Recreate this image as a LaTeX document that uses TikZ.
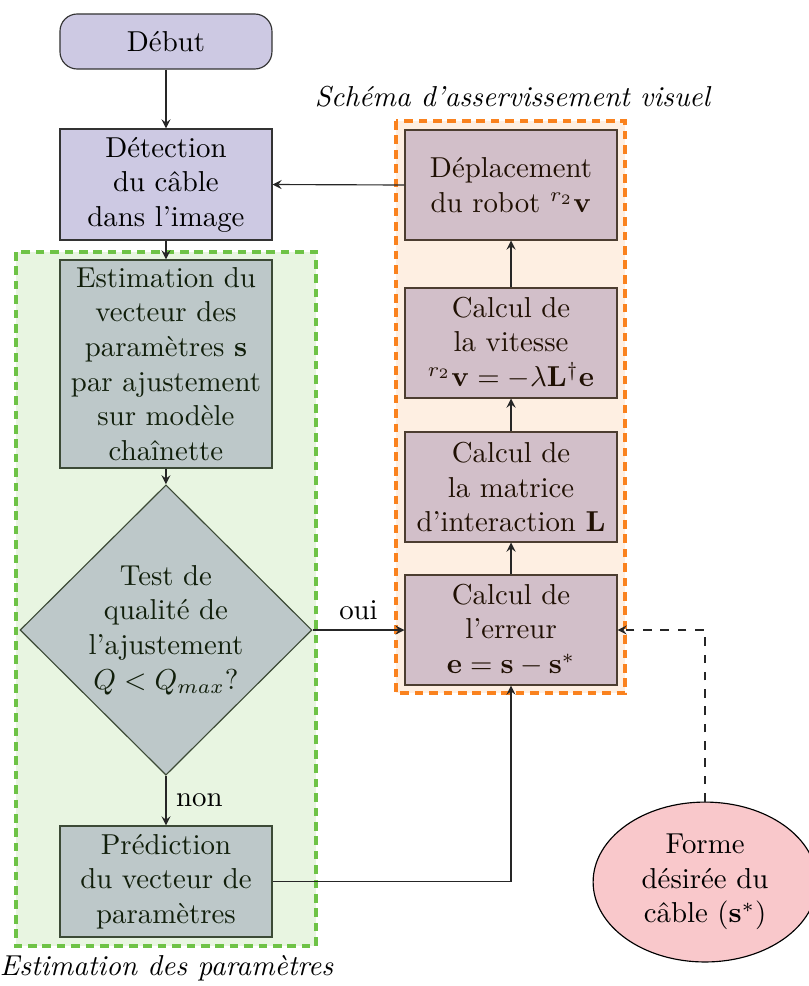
\documentclass[tikz,border=0pt]{standalone}
\usepackage{amsmath,amssymb}
\usepackage{xcolor}
\usepackage{tikz}
\usetikzlibrary{
  shapes.geometric, arrows.meta, positioning, calc
}
\definecolor{stepfill}{RGB}{205,201,227}
\definecolor{goalfill}{RGB}{249,200,203}
\definecolor{estgreen}{RGB}{110,195,70}
\definecolor{asservorange}{RGB}{250,130,30}
\tikzset{
  startbox/.style={
    draw=black!80, rounded corners=6pt, fill=stepfill, align=center,
    minimum width=2.585cm, minimum height=0.671cm
  },
  stepbox/.style={
    rectangle, draw=black!80, fill=stepfill, align=center, inner sep=2pt,
    minimum width=2.585cm, minimum height=1.341cm
  },
  testdiamond/.style={
    diamond, draw=black!80, fill=stepfill, align=center, inner sep=0pt,
    minimum width=3.56cm, minimum height=3.54cm
  },
  goalellipse/.style={
    ellipse, draw=black, fill=goalfill, align=center, inner sep=1pt,
    minimum width=2.73cm, minimum height=1.95cm
  },
  estregion/.style={
    draw=estgreen, fill=estgreen, fill opacity=0.16, line width=1.1pt,
    dash pattern=on 3pt off 2pt
  },
  asservregion/.style={
    draw=asservorange, fill=asservorange, fill opacity=0.13, line width=1.1pt,
    dash pattern=on 3pt off 2pt
  },
  grouplabel/.style={font=\itshape},
  flowarrow/.style={-stealth, color=black!85},
}

\begin{document}
\begin{tikzpicture}
  \useasboundingbox (0,0) rectangle (9.854,-12.024);

  % Estimation side
  \node[startbox] (debut) at (2.024,-0.506) {Début};
  \node[stepbox, minimum height=1.354cm] (detect) at (2.024,-2.250)
    {Détection\\du câble\\dans l'image};
  \node[stepbox, minimum height=2.537cm] (estim) at (2.024,-4.439)
    {Estimation du\\vecteur des\\paramètres $\mathbf{s}$\\par ajustement\\sur modèle\\chaînette};
  \node[testdiamond] (test) at (2.024,-7.683)
    {Test de\\qualité de\\l'ajustement\\$Q<Q_{max}$?};
  \node[stepbox, minimum height=1.354cm] (predict) at (2.024,-10.750)
    {Prédiction\\du vecteur de\\paramètres};

  % Visual servoing side
  \node[stepbox] (deplac) at (6.232,-2.256)
    {Déplacement\\du robot ${}^{r_2}\mathbf{v}$};
  \node[stepbox] (vitesse) at (6.232,-4.183)
    {Calcul de\\la vitesse\\${}^{r_2}\mathbf{v}=-\lambda\mathbf{L}^{\dagger}\mathbf{e}$};
  \node[stepbox] (matrice) at (6.232,-5.939)
    {Calcul de\\la matrice\\d'interaction $\mathbf{L}$};
  \node[stepbox] (erreur) at (6.232,-7.683)
    {Calcul de\\l'erreur\\$\mathbf{e}=\mathbf{s}-\mathbf{s}^*$};

  % Desired shape
  \node[goalellipse] (forme) at (8.598,-10.756)
    {Forme\\désirée du\\câble ($\mathbf{s}^*$)};

  % Groups
  \draw[estregion] (0.195,-3.073) rectangle (3.854,-11.537);
  \draw[asservregion] (4.829,-1.476) rectangle (7.622,-8.451);
  \node[grouplabel] (asservlabel) at (6.25,-1.183) {Schéma d'asservissement visuel};
  \node[grouplabel] (estimlabel) at (2.03,-11.805) {Estimation des paramètres};

  % Arrows
  \draw[flowarrow] (debut) -- (detect);
  \draw[flowarrow] (detect) -- (estim);
  \draw[flowarrow] (estim) -- (test);
  \draw[flowarrow] (test) -- node[above, text=black] {oui} (erreur);
  \draw[flowarrow] (test) -- node[right, text=black] {non} (predict);
  \draw[flowarrow] (predict) -| (erreur);
  \draw[flowarrow, dashed] (forme) |- (erreur);
  \draw[flowarrow] (erreur) -- (matrice);
  \draw[flowarrow] (matrice) -- (vitesse);
  \draw[flowarrow] (vitesse) -- (deplac);
  \draw[flowarrow] (deplac.west) -- (detect.east);
\end{tikzpicture}
\end{document}
